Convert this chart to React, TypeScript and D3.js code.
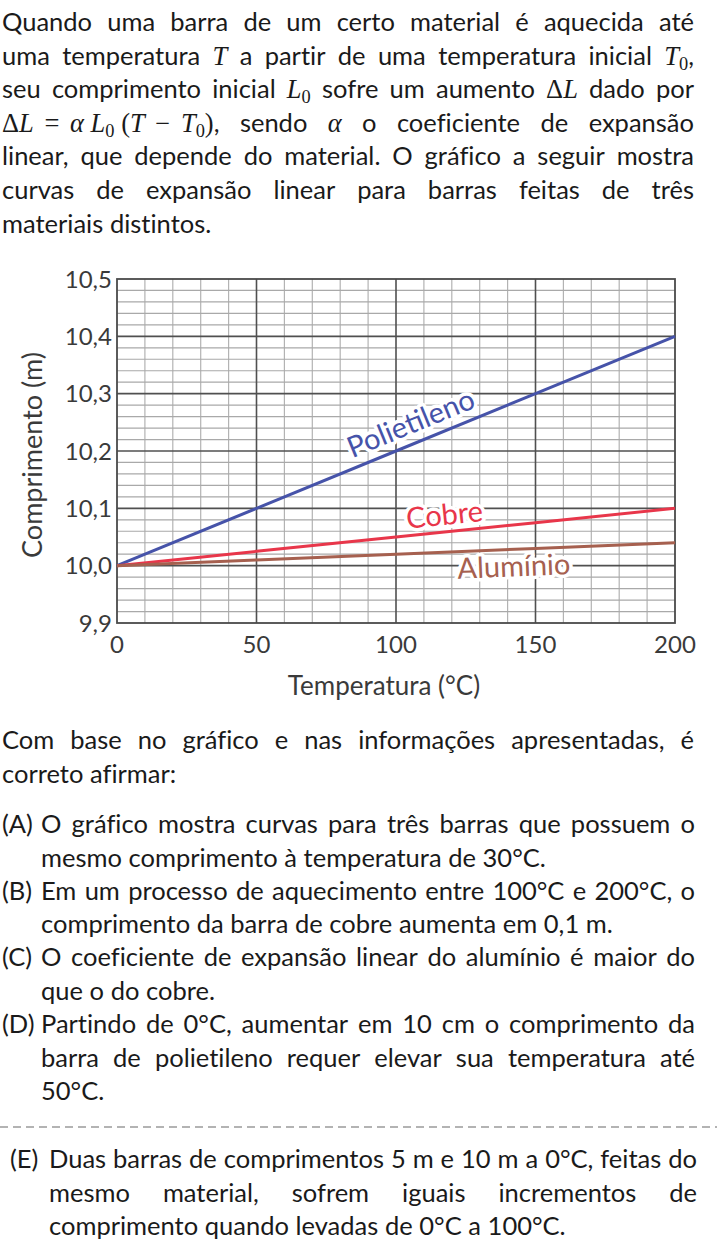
import React, { useEffect, useRef } from 'react';
import * as d3 from 'd3';

// ---- chart data ----
const temperatures = [0, 50, 100, 150, 200];
const polietileno = [10.0, 10.1, 10.2, 10.3, 10.4];
const cobre = [10.0, 10.025, 10.05, 10.075, 10.1];
const aluminio = [10.0, 10.01, 10.02, 10.03, 10.04];

const seriesNames = ['Polietileno', 'Cobre', 'Alumínio'];
const seriesColors = ['#4653a9', '#e8364a', '#a6604f'];
const labelTemps = [108, 118, 142];
const labelOffsets = [10, 7, -27];

const xTicks = [0, 50, 100, 150, 200];
const xTickLabels = ['0', '50', '100', '150', '200'];
const yTicks = [9.9, 10.0, 10.1, 10.2, 10.3, 10.4, 10.5];
const yTickLabels = ['9,9', '10,0', '10,1', '10,2', '10,3', '10,4', '10,5'];

// ---- text ----
const NB = '\u00a0';
const OP = '\u2009\u2009';
const introLines = [
  'Quando uma barra de um certo material é aquecida até',
  'uma temperatura *T* a partir de uma temperatura inicial *T*_0,',
  'seu comprimento inicial *L*_0 sofre um aumento *ΔL* dado por',
  `*ΔL${OP}=${OP}α${NB}L*_0*${NB}(T${OP}−${OP}T*_0*)*, sendo *α* o coeficiente de expansão`,
  'linear, que depende do material. O gráfico a seguir mostra',
  'curvas de expansão linear para barras feitas de três',
  'materiais distintos.',
];
const questionLines = [
  'Com base no gráfico e nas informações apresentadas, é',
  'correto afirmar:',
];
const optionA = ['O gráfico mostra curvas para três barras que possuem o', 'mesmo comprimento à temperatura de 30°C.'];
const optionB = ['Em um processo de aquecimento entre 100°C e 200°C, o', 'comprimento da barra de cobre aumenta em 0,1 m.'];
const optionC = ['O coeficiente de expansão linear do alumínio é maior do', 'que o do cobre.'];
const optionD = [
  'Partindo de 0°C, aumentar em 10 cm o comprimento da',
  'barra de polietileno requer elevar sua temperatura até',
  '50°C.',
];
const optionE = [
  'Duas barras de comprimentos 5 m e 10 m a 0°C, feitas do',
  'mesmo material, sofrem iguais incrementos de',
  'comprimento quando levadas de 0°C a 100°C.',
];

const FONT = 'Lato, "Open Sans", sans-serif';
const MATH = '"Liberation Serif", "DejaVu Serif", serif';
const FS = 25.5;
const LH = 33.6;

interface Seg { t: string; math: boolean; it: boolean; sub: boolean }

function parseWord(w: string): Seg[] {
  const segs: Seg[] = [];
  let math = false;
  for (let i = 0; i < w.length; i++) {
    const c = w[i];
    if (c === '*') { math = !math; continue; }
    if (c === '_') {
      segs.push({ t: w[i + 1], math: true, it: false, sub: true });
      i++;
      continue;
    }
    const it = math && /[A-Za-zα]/.test(c);
    const last = segs[segs.length - 1];
    if (last && !last.sub && last.math === math && last.it === it) last.t += c;
    else segs.push({ t: c, math, it, sub: false });
  }
  return segs;
}

export default function App() {
  const ref = useRef<SVGSVGElement>(null);

  useEffect(() => {
    const svg = d3.select(ref.current);
    svg.selectAll('*').remove();

    // ---------- text blocks ----------
    const textG = svg.append('g')
      .attr('fill', '#1a1a1a')
      .style('font-variant-ligatures', 'none');

    const drawLine = (line: string, x0: number, yb: number, right: number, justify: boolean) => {
      const words = line.split(' ');
      const nodes = words.map((w) => {
        const t = textG.append('text').attr('y', yb).attr('x', 0).style('font-family', FONT).style('font-size', `${FS}px`);
        let prevSub = false;
        parseWord(w).forEach((s) => {
          const ts = t.append('tspan').text(s.t);
          if (s.math) ts.style('font-family', MATH);
          if (s.it) ts.style('font-style', 'italic');
          if (s.sub) ts.style('font-size', `${FS * 0.72}px`).attr('dy', 5);
          else if (prevSub) ts.attr('dy', -5);
          if (s.math && !s.sub) ts.style('font-size', `${FS * 1.04}px`);
          prevSub = s.sub;
        });
        return t;
      });
      const widths = nodes.map((n) => (n.node() as SVGTextElement).getComputedTextLength());
      const sp = FS * 0.26;
      const total = d3.sum(widths);
      const gap = justify && nodes.length > 1 ? (right - x0 - total) / (nodes.length - 1) : sp;
      let cx = x0;
      nodes.forEach((n, i) => {
        n.attr('x', cx);
        cx += widths[i] + gap;
      });
    };

    const drawBlock = (lines: string[], x0: number, y0: number, right: number, justifyLast = false) => {
      lines.forEach((l, i) => drawLine(l, x0, y0 + i * LH, right, i < lines.length - 1 || justifyLast));
    };

    drawBlock(introLines, 2, 31, 694);
    drawBlock(questionLines, 2, 749, 694);

    const options: [string, string[], number][] = [
      ['(A)', optionA, 833],
      ['(B)', optionB, 899.5],
      ['(C)', optionC, 966],
      ['(D)', optionD, 1033],
    ];
    options.forEach(([lab, lines, yb]) => {
      drawLine(lab, 2, yb, 0, false);
      drawBlock(lines, 41, yb, 695);
    });

    svg.append('line')
      .attr('x1', 0).attr('x2', 717)
      .attr('y1', 1127).attr('y2', 1127)
      .attr('stroke', '#9a9a9a')
      .attr('stroke-width', 1.5)
      .attr('stroke-dasharray', '8,5');

    drawLine('(E)', 10, 1168, 0, false);
    drawBlock(optionE, 49, 1168, 697);

    // ---------- chart ----------
    const x = d3.scaleLinear().domain([0, 200]).range([117, 675]);
    const y = d3.scaleLinear().domain([9.9, 10.5]).range([623, 279]);

    const grid = svg.append('g');
    const minorX = d3.range(10, 200, 10).filter((v) => v % 50 !== 0);
    const minorY = d3.range(1, 30).filter((i) => i % 5 !== 0).map((i) => 9.9 + i * 0.02);

    grid.selectAll('.mx').data(minorX).enter().append('line')
      .attr('x1', (d) => x(d)).attr('x2', (d) => x(d))
      .attr('y1', y(10.5)).attr('y2', y(9.9))
      .attr('stroke', '#b3b3b3').attr('stroke-width', 1.2);
    grid.selectAll('.my').data(minorY).enter().append('line')
      .attr('x1', x(0)).attr('x2', x(200))
      .attr('y1', (d) => y(d)).attr('y2', (d) => y(d))
      .attr('stroke', '#a9a9a9').attr('stroke-width', 1.2);
    grid.selectAll('.Mx').data(xTicks.slice(1, -1)).enter().append('line')
      .attr('x1', (d) => x(d)).attr('x2', (d) => x(d))
      .attr('y1', y(10.5)).attr('y2', y(9.9))
      .attr('stroke', '#505050').attr('stroke-width', 1.6);
    grid.selectAll('.My').data(yTicks.slice(1, -1)).enter().append('line')
      .attr('x1', x(0)).attr('x2', x(200))
      .attr('y1', (d) => y(d)).attr('y2', (d) => y(d))
      .attr('stroke', '#505050').attr('stroke-width', 1.6);
    grid.append('rect')
      .attr('x', x(0)).attr('y', y(10.5))
      .attr('width', x(200) - x(0)).attr('height', y(9.9) - y(10.5))
      .attr('fill', 'none').attr('stroke', '#4a4a4a').attr('stroke-width', 1.8);

    // tick labels
    const tickG = svg.append('g').attr('fill', '#3a3a3a').style('font-family', FONT).style('font-size', '24px');
    tickG.selectAll('.yt').data(yTicks).enter().append('text')
      .attr('x', 112).attr('y', (d) => y(d) + 8.5)
      .attr('text-anchor', 'end')
      .text((d, i) => yTickLabels[i]);
    tickG.selectAll('.xt').data(xTicks).enter().append('text')
      .attr('x', (d) => x(d)).attr('y', 653)
      .attr('text-anchor', 'middle')
      .text((d, i) => xTickLabels[i]);
    tickG.append('text')
      .attr('x', 384).attr('y', 695)
      .attr('text-anchor', 'middle')
      .style('font-size', '26px')
      .text('Temperatura (°C)');
    tickG.append('text')
      .attr('transform', 'translate(42,455) rotate(-90)')
      .attr('text-anchor', 'middle')
      .style('font-size', '27px')
      .text('Comprimento (m)');

    const allSeries = [polietileno, cobre, aluminio];

    // curve labels
    allSeries.forEach((vals, i) => {
      const T = labelTemps[i];
      const v = d3.scaleLinear().domain(temperatures).range(vals)(T);
      const ang = Math.atan2(y(vals[vals.length - 1]) - y(vals[0]), x(200) - x(0));
      const o = labelOffsets[i];
      const px = x(T) + o * Math.sin(ang);
      const py = y(v) - o * Math.cos(ang);
      svg.append('text')
        .attr('transform', `translate(${px},${py}) rotate(${(ang * 180) / Math.PI})`)
        .attr('text-anchor', 'middle')
        .attr('fill', seriesColors[i])
        .attr('stroke', '#fff')
        .attr('stroke-width', 7)
        .attr('stroke-linejoin', 'round')
        .attr('paint-order', 'stroke')
        .style('font-family', FONT)
        .style('font-size', '29px')
        .text(seriesNames[i]);
    });

    // lines
    const line = d3.line<number>()
      .x((d, i) => x(temperatures[i]))
      .y((d) => y(d));
    allSeries.forEach((vals, i) => {
      svg.append('path')
        .datum(vals)
        .attr('d', line)
        .attr('fill', 'none')
        .attr('stroke', seriesColors[i])
        .attr('stroke-width', 3);
    });
  }, []);

  return (
    <svg
      ref={ref}
      width={717}
      height={1242}
      style={{ position: 'absolute', left: 0, top: 0, background: '#fff' }}
    />
  );
}
